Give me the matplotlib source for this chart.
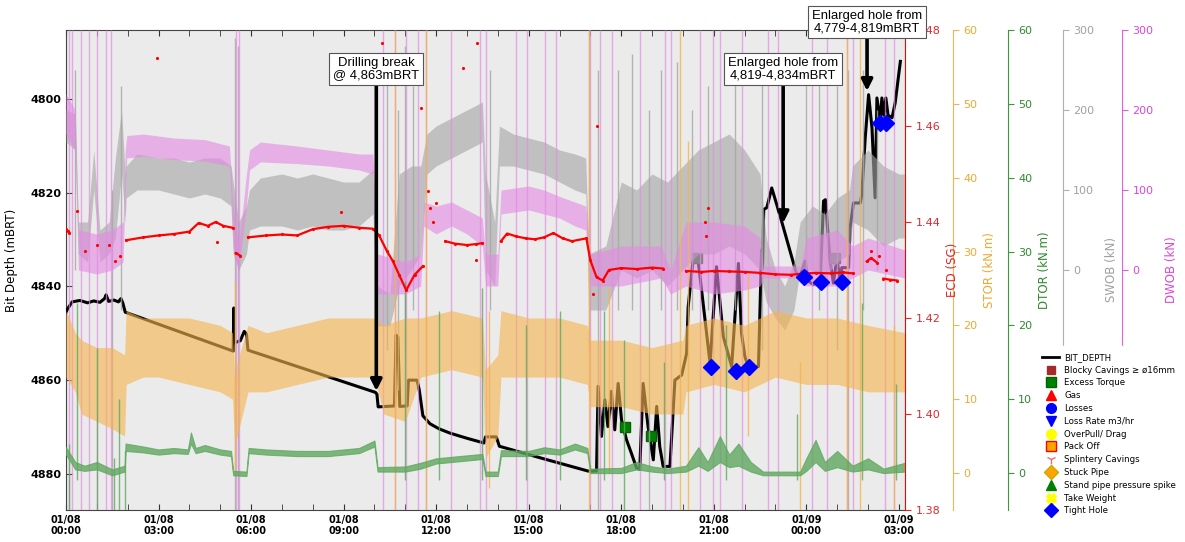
import numpy as np
import matplotlib
matplotlib.use("Agg")
import matplotlib.pyplot as plt
import matplotlib.dates as mdates
from matplotlib.lines import Line2D

nan = np.nan
start_day = "2019-01-08"

# ---------------- data (hours since 01/08 00:00) ----------------
# Bit depth (h, mBRT)
depth = [(0.00, 4845.5), (0.05, 4844.8), (0.2, 4843.3), (0.45, 4843.0), (0.7, 4843.5), (0.9, 4843.1),
         (1.1, 4843.4), (1.25, 4842.6), (1.3, 4841.8), (1.38, 4843.2), (1.55, 4842.9), (1.7, 4843.3),
         (1.78, 4842.6), (1.84, 4843.5), (1.92, 4845.5), (5.42, 4853.8), (5.44, 4844.6), (5.47, 4852.0),
         (5.65, 4851.6), (5.72, 4850.5), (5.78, 4849.6), (5.85, 4850.2), (5.9, 4853.6), (10.03, 4862.6),
         (10.08, 4863.0), (10.12, 4865.7), (10.65, 4865.5), (10.7, 4850.4), (10.76, 4850.8), (10.82, 4865.6),
         (11.06, 4865.5), (11.1, 4860.0), (11.38, 4860.0), (11.45, 4862.0), (11.57, 4867.6), (11.8, 4869.3),
         (12.1, 4870.4), (12.45, 4871.3), (13.0, 4872.4), (13.55, 4873.4), (13.6, 4872.1), (13.95, 4872.1),
         (14.05, 4874.1), (15.5, 4876.8), (16.93, 4879.4), (17.2, 4879.4), (17.25, 4861.3), (17.36, 4872.0),
         (17.47, 4864.2), (17.57, 4869.9), (17.68, 4862.4), (17.79, 4870.6), (17.9, 4860.7), (18.01, 4868.5),
         (18.17, 4872.7), (18.33, 4875.6), (18.5, 4878.8), (18.6, 4879.0), (18.71, 4860.7), (18.87, 4869.9),
         (19.04, 4877.0), (19.15, 4865.6), (19.25, 4874.2), (19.36, 4878.4), (19.58, 4878.4), (19.74, 4860.0),
         (19.96, 4858.9), (20.12, 4854.3), (20.17, 4844.4), (20.33, 4834.3), (20.5, 4834.8), (20.88, 4856.4),
         (21.09, 4835.8), (21.31, 4850.7), (21.58, 4857.1), (21.8, 4835.1), (21.9, 4850.0), (22.01, 4855.0),
         (22.12, 4857.1), (22.45, 4857.1), (22.55, 4832.2), (22.58, 4836.3), (22.62, 4823.6), (22.72, 4823.2),
         (22.88, 4819.0), (23.04, 4822.5), (23.2, 4826.1), (23.69, 4837.5), (23.8, 4837.8), (23.96, 4834.6),
         (24.07, 4838.9), (24.23, 4839.6), (24.45, 4839.0), (24.56, 4821.8), (24.62, 4821.5), (24.77, 4834.6),
         (24.88, 4839.3), (24.99, 4834.0), (25.1, 4838.9), (25.15, 4836.0), (25.37, 4836.0), (25.42, 4827.5),
         (25.53, 4822.2), (25.75, 4822.2), (25.8, 4820.4), (25.91, 4808.3), (26.02, 4799.1), (26.13, 4806.2),
         (26.23, 4821.1), (26.29, 4799.8), (26.4, 4804.8), (26.45, 4799.8), (26.52, 4803.5), (26.58, 4799.8),
         (26.65, 4803.5), (26.78, 4804.0), (26.88, 4800.9), (27.05, 4792.0)]

# Events on bit depth
torque_h = [18.12, 18.95, 20.47, 24.94]
torque_m = [4869.9, 4872.0, 4834.0, 4834.0]
tight_h = [20.91, 21.71, 22.13, 23.93, 24.48, 25.15, 26.40, 26.58]
tight_m = [4857.1, 4858.0, 4857.1, 4838.0, 4839.1, 4839.1, 4805.1, 4805.1]

# ECD (h, SG) with gaps
ecd = [(0.0, 1.4385), (0.05, 1.4382), (0.1, 1.4378), (nan, nan),
       (1.95, 1.4362), (2.5, 1.4368), (3.0, 1.4372), (3.5, 1.4375), (4.0, 1.4380), (4.3, 1.4398),
       (4.6, 1.4392), (4.85, 1.4400), (5.1, 1.4392), (5.4, 1.4388), (nan, nan),
       (5.5, 1.4335), (5.65, 1.4330), (nan, nan),
       (5.9, 1.4368), (6.5, 1.4372), (7.0, 1.4374), (7.5, 1.4372), (8.0, 1.4385), (8.5, 1.4390),
       (9.0, 1.4392), (9.5, 1.4388), (9.95, 1.4386), (10.15, 1.4372), (10.4, 1.4340), (10.6, 1.4318),
       (10.8, 1.4290), (11.03, 1.4258), (11.3, 1.4290), (11.57, 1.4308), (nan, nan),
       (12.3, 1.4360), (12.6, 1.4355), (13.0, 1.4352), (13.3, 1.4354), (13.5, 1.4356), (nan, nan),
       (14.1, 1.4360), (14.3, 1.4376), (14.6, 1.4370), (14.9, 1.4366), (15.2, 1.4364), (15.5, 1.4368),
       (15.8, 1.4377), (16.1, 1.4366), (16.4, 1.4360), (16.87, 1.4366), (17.0, 1.4320), (17.2, 1.4285),
       (17.4, 1.4278), (17.6, 1.4300), (18.0, 1.4304), (18.5, 1.4302), (19.0, 1.4305), (19.36, 1.4303),
       (nan, nan),
       (20.1, 1.4298), (20.6, 1.4296), (21.0, 1.4298), (21.5, 1.4297), (22.0, 1.4296), (22.5, 1.4294),
       (23.0, 1.4291), (23.5, 1.4290), (23.8, 1.4292), (24.3, 1.4294), (24.8, 1.4293), (25.2, 1.4295),
       (25.5, 1.4293), (nan, nan),
       (25.96, 1.4318), (26.1, 1.4325), (26.3, 1.4315), (nan, nan),
       (26.5, 1.4282), (26.7, 1.4280), (26.95, 1.4278)]
ecd_scatter = [(0.35, 1.4423), (0.6, 1.4340), (1.0, 1.4352), (1.4, 1.4352), (1.6, 1.4319), (1.75, 1.4330),
               (2.95, 1.4742), (4.9, 1.4358), (8.9, 1.4420), (10.25, 1.4773), (11.5, 1.4638),
               (11.75, 1.4465), (11.8, 1.4430), (11.9, 1.4400), (12.0, 1.4440), (12.86, 1.4721),
               (13.34, 1.4773), (13.3, 1.4320), (17.2, 1.4600), (17.1, 1.4250), (20.7, 1.4400),
               (20.75, 1.4370), (20.8, 1.4430), (26.1, 1.4340), (26.35, 1.4330), (26.6, 1.4300)]

# SWOB band (h, low, high) kN
swob_band = [(0.0, 160, 200), (0.3, 150, 195), (0.4, 20, 60), (0.7, 10, 60), (0.9, 100, 150), (1.1, 10, 50),
             (1.4, 20, 60), (1.6, 40, 140), (1.8, 120, 200), (1.92, 60, 120), (1.95, 90, 130), (2.3, 100, 145),
             (3.0, 100, 140), (3.5, 95, 140), (4.0, 90, 135), (4.5, 95, 140), (5.0, 90, 140), (5.35, 80, 130),
             (5.42, 20, 110), (5.6, 0, 60), (5.85, 20, 80), (5.95, 50, 100), (6.3, 55, 115), (7.0, 55, 120),
             (7.5, 50, 115), (8.0, 55, 120), (8.5, 50, 115), (9.0, 50, 110), (9.5, 55, 110), (9.95, 70, 125),
             (10.1, -70, -20), (10.5, -70, -30), (10.8, -20, 120), (11.2, 0, 130), (11.5, 20, 130),
             (11.7, 120, 170), (12.0, 130, 180), (12.5, 140, 190), (13.0, 150, 200), (13.5, 160, 210),
             (13.6, 0, 120), (13.9, -20, 60), (14.05, 130, 180), (14.5, 130, 170), (15.0, 125, 165),
             (15.5, 120, 160), (16.0, 110, 150), (16.5, 100, 145), (16.85, 95, 140), (16.95, -50, 20),
             (17.5, -50, 30), (18.0, 0, 110), (18.5, -10, 100), (19.0, 0, 120), (19.5, -20, 110),
             (20.0, 0, 130), (20.5, 20, 150), (21.0, 20, 160), (21.5, 30, 170), (22.0, 20, 150),
             (22.5, 0, 120), (22.7, -40, 40), (23.0, -60, 0), (23.3, -75, -20), (23.6, -50, 10),
             (23.8, 0, 60), (24.2, 0, 80), (24.6, -10, 70), (25.0, 10, 90), (25.4, 20, 100), (25.5, 60, 130),
             (26.0, 50, 150), (26.5, 30, 130), (27.0, 40, 120), (27.2, 40, 120)]
swob_spikes = [(0.3, 0, 250), (1.5, -300, 100), (1.78, -50, 230), (5.47, -300, 290), (5.58, -300, 280),
               (10.4, -100, 250), (10.75, -150, 200), (11.0, -100, 280), (11.25, -50, 230), (13.75, -50, 250),
               (16.95, -100, 300), (17.25, -300, 250), (17.9, -50, 250), (18.35, -50, 270), (18.9, -300, 200),
               (19.3, -50, 250), (19.8, -50, 260), (20.3, -50, 200), (20.8, -50, 230), (21.7, -50, 250),
               (22.55, -100, 250), (24.0, 0, 240), (24.4, -50, 260), (25.0, -100, 230), (25.35, -300, 250),
               (25.85, -50, 250), (26.3, 0, 200)]

# DWOB band (h, low, high) kN
dwob_band = [(0.0, 170, 220), (0.3, 150, 200), (0.4, 0, 50), (1.0, -5, 45), (1.5, 0, 50), (1.85, 10, 60),
             (1.92, 100, 150), (1.97, 140, 168), (2.5, 142, 170), (3.5, 138, 165), (4.5, 136, 163),
             (5.3, 130, 155), (5.42, 30, 80), (5.6, 0, 30), (5.85, 80, 120), (5.95, 125, 150), (6.3, 135, 160),
             (7.5, 133, 155), (8.5, 130, 150), (9.5, 125, 145), (9.95, 120, 145), (10.1, -30, 20),
             (11.0, -30, 10), (11.5, -20, 20), (11.6, 55, 85), (12.0, 45, 80), (12.5, 55, 85), (13.0, 45, 75),
             (13.5, 30, 65), (13.6, -20, 20), (14.0, -20, 20), (14.1, 70, 100), (15.0, 75, 105),
             (15.5, 70, 100), (16.0, 65, 92), (16.5, 55, 85), (16.85, 50, 80), (17.0, -20, 20), (18.0, -20, 30),
             (19.3, -10, 30), (19.6, -30, 0), (20.1, -20, 60), (21.0, -30, 60), (22.0, -25, 55),
             (22.5, -20, 40), (22.6, -10, 5), (23.8, -10, 5), (24.0, -20, 40), (25.0, -20, 50),
             (25.5, -10, 30), (26.0, 0, 40), (27.2, -10, 25)]
dwob_spikes = [0.1, 0.2, 0.48, 0.75, 1.02, 1.29, 1.45, 5.51, 5.62, 10.27, 10.65, 11.03, 11.41, 11.68, 12.49,
               13.41, 13.63, 14.6, 14.93, 15.52, 15.9, 16.98, 17.3, 17.7, 18.6, 19.42, 19.63, 20.56, 20.97,
               21.2, 21.9, 22.77, 23.09, 24.2, 24.67, 25.31, 25.53, 26.56, 26.85]

# STOR band (h, low, high) kN.m
stor_band = [(0.0, 13, 22), (0.3, 11, 19), (0.5, 8, 18), (1.0, 7, 17), (1.5, 6, 17), (1.9, 5, 16),
             (1.95, 12, 22), (2.5, 13, 21), (3.0, 13, 21), (4.0, 12, 21), (5.0, 11, 20), (5.4, 10, 19),
             (5.47, 4, 12), (5.55, 5, 15), (5.9, 11, 20), (6.5, 11, 19), (7.5, 12, 20), (8.5, 13, 21),
             (9.5, 13, 21), (10.0, 13, 21), (10.3, 8, 20), (11.0, 7, 21), (11.5, 13, 21), (12.5, 14, 22),
             (13.5, 13, 21), (13.6, 2, 14), (14.0, 5, 16), (14.1, 13, 22), (15.0, 13, 21), (16.0, 13, 21),
             (16.9, 12, 20), (17.0, 9, 18), (18.0, 9, 18), (19.0, 8, 17), (20.0, 8, 18), (20.1, 11, 20),
             (21.0, 12, 21), (22.0, 11, 20), (22.5, 12, 21), (23.0, 13, 22), (24.0, 12, 21), (25.0, 12, 21),
             (26.0, 11, 20), (27.2, 11, 19)]
stor_spikes = [(5.48, 0, 26), (10.65, -5, 60), (11.68, -5, 60), (13.7, -2, 22), (16.95, -5, 60), (17.6, 0, 25),
               (19.9, -5, 60), (20.15, -5, 45), (22.1, 5, 27), (23.8, -5, 15), (25.32, -5, 60),
               (25.75, -5, 60), (26.85, -5, 20)]

# DTOR band (h, low, high) kN.m
dtor_band = [(0.0, 2.5, 3.5), (0.3, 0.5, 1.5), (0.6, 0.3, 1.0), (1.0, 0.5, 1.5), (1.5, -0.3, 0.5),
             (1.9, 0.2, 1.0), (1.93, 3.0, 4.0), (2.5, 2.8, 3.6), (3.0, 2.5, 3.2), (3.5, 2.7, 3.4),
             (3.95, 2.6, 3.2), (4.05, 4.0, 5.5), (4.2, 2.7, 3.4), (4.5, 3.0, 3.8), (5.0, 2.5, 3.2),
             (5.35, 2.3, 3.0), (5.42, -0.3, 0.3), (5.85, -0.4, 0.2), (5.92, 2.7, 3.4), (6.5, 2.5, 3.2),
             (7.5, 2.3, 3.0), (8.5, 2.3, 3.0), (9.5, 2.7, 3.4), (10.0, 3.6, 4.4), (10.1, 0.2, 0.8),
             (11.0, 0.2, 0.9), (11.5, 0.6, 1.4), (12.0, 1.3, 2.0), (12.5, 1.5, 2.2), (13.5, 1.9, 2.6),
             (13.6, -0.4, 0.2), (14.0, -0.4, 0.2), (14.1, 2.3, 3.1), (15.0, 2.3, 3.0), (15.5, 2.7, 3.5),
             (16.0, 2.5, 3.2), (16.5, 3.2, 4.0), (16.9, 2.7, 3.4), (17.0, 0.0, 0.6), (18.0, 0.0, 0.7),
             (18.5, 0.5, 1.5), (19.0, 0.2, 0.9), (19.5, 0.0, 0.6), (20.1, 0.2, 1.0), (20.5, 1.0, 3.5),
             (20.8, 0.3, 1.5), (21.2, 1.5, 5.0), (21.5, 0.8, 2.5), (21.8, 1.0, 4.0), (22.2, 0.2, 1.5),
             (22.6, -0.3, 0.2), (23.8, -0.3, 0.2), (24.0, 0.3, 2.0), (24.3, 1.5, 4.5), (24.6, 0.3, 1.5),
             (25.0, 0.8, 3.0), (25.5, 0.2, 1.0), (26.0, 0.5, 2.0), (26.5, 0.0, 0.6), (27.2, 0.2, 1.4)]
dtor_spikes = [(0.1, -5, 4), (0.36, -1, 23), (1.0, -5, 17), (1.55, -5, 2), (1.72, -5, 10), (1.9, -5, 3),
               (11.0, -1, 26), (12.1, -1, 22), (13.5, -1, 25), (14.9, -1, 20), (16.0, -1, 22), (17.45, -1, 22),
               (18.1, -5, 18), (19.4, -1, 15), (21.4, -1, 20), (23.7, -1, 8), (25.8, -1, 23), (26.9, -1, 12)]

# Annotations
note_text = ["Drilling break\n@ 4,863mBRT", "Enlarged hole from\n4,819-4,834mBRT",
             "Enlarged hole from\n4,779-4,819mBRT"]
note_h = [10.06, 23.25, 25.97]
note_tip_m = [4862.3, 4826.5, 4798.3]
note_box_m = [4793.6, 4793.6, 4783.6]

legend_labels = ["BIT_DEPTH", "Blocky Cavings \u2265 \u00f816mm", "Excess Torque", "Gas", "Losses",
                 "Loss Rate m3/hr", "OverPull/ Drag", "Pack Off", "Splintery Cavings", "Stuck Pipe",
                 "Stand pipe pressure spike", "Take Weight", "Tight Hole"]

# ---------------- helpers ----------------
base = mdates.datestr2num(start_day)


def tx(h):
    return base + np.asarray(h, dtype=float) / 24.0


def cols(rows):
    return [np.array(c, dtype=float) for c in zip(*rows)]


W, H = 1185, 542
fig = plt.figure(figsize=(W / 100, H / 100), dpi=100)
ax = fig.add_axes([66 / W, 32 / H, 839 / W, 480 / H])
ax.set_facecolor("#ebebeb")

ax_swob = ax.twinx()
ax_dwob = ax.twinx()
ax_stor = ax.twinx()
ax_dtor = ax.twinx()
ax_ecd = ax.twinx()
for a, z in [(ax_swob, 1), (ax_dwob, 1), (ax_stor, 1), (ax_dtor, 1), (ax_ecd, 2)]:
    a.set_zorder(z)
    for s in ("left", "top", "bottom"):
        a.spines[s].set_visible(False)

c_red, c_red_t = "red", "#e3262e"
c_or_line, c_or_t = "#f4b450", "#f0a830"
c_gr_line, c_gr_t = "#5fa85f", "#2e8b2e"
c_gy_line, c_gy_t = "#a6a6a6", "#a0a0a0"
c_vi_line, c_vi_t = "#e48ae4", "#dd44dd"

# bit depth
dh, dm = cols(depth)
ax.plot(tx(dh), dm, color="black", lw=2.2, zorder=3)
ax.plot(tx(torque_h), torque_m, "s", color="green", mec="darkgreen", ms=7, zorder=4)

# SWOB
h, lo, hi = cols(swob_band)
ax_swob.fill_between(tx(h), lo, hi, color=c_gy_line, alpha=0.62, lw=0)
h, lo, hi = cols(swob_spikes)
ax_swob.vlines(tx(h), lo, hi, color=c_gy_line, lw=1.0, alpha=0.8)
# DWOB
h, lo, hi = cols(dwob_band)
ax_dwob.fill_between(tx(h), lo, hi, color=c_vi_line, alpha=0.6, lw=0)
ax_dwob.vlines(tx(dwob_spikes), -300, 300, color=c_vi_line, lw=1.0, alpha=0.7)
# STOR
h, lo, hi = cols(stor_band)
ax_stor.fill_between(tx(h), lo, hi, color=c_or_line, alpha=0.62, lw=0)
h, lo, hi = cols(stor_spikes)
ax_stor.vlines(tx(h), lo, hi, color=c_or_line, lw=1.0, alpha=0.8)
# DTOR
h, lo, hi = cols(dtor_band)
ax_dtor.fill_between(tx(h), lo, hi, color=c_gr_line, alpha=0.8, lw=0.8, edgecolor=c_gr_line)
h, lo, hi = cols(dtor_spikes)
ax_dtor.vlines(tx(h), lo, hi, color=c_gr_line, lw=1.0, alpha=0.8)
# ECD
h, v = cols(ecd)
ax_ecd.plot(tx(h), v, color=c_red, lw=1.6, marker=".", ms=2.5)
h, v = cols(ecd_scatter)
ax_ecd.plot(tx(h), v, ".", color=c_red, ms=2.5, lw=0)

# tight hole markers on top layer (in depth coordinates)
ax_ecd.plot(tx(tight_h), tight_m, "D", color="blue", ms=8, transform=ax.transData, zorder=5)

# annotations on top layer
for txt, hh, tip, box in zip(note_text, note_h, note_tip_m, note_box_m):
    ax_ecd.annotate(txt, xy=(tx(hh), tip), xycoords=ax.transData,
                    xytext=(tx(hh), box), textcoords=ax.transData,
                    ha="center", va="center", fontsize=9.4, family="Liberation Sans",
                    linespacing=1.05, annotation_clip=False, zorder=10,
                    bbox=dict(boxstyle="square,pad=0.3", fc="white", ec="#555555", lw=0.8),
                    arrowprops=dict(arrowstyle="-|>,head_length=0.7,head_width=0.35", lw=2.6,
                                    color="black", shrinkA=0, shrinkB=0))

# ---------------- axes formatting ----------------
ax.set_xlim(tx(0.0), tx(27.2))
ax.set_ylim(4887.7, 4785.3)
ax.set_yticks([4800, 4820, 4840, 4860, 4880])
ax.xaxis.set_major_locator(mdates.HourLocator(byhour=range(0, 24, 3)))
ax.xaxis.set_minor_locator(mdates.HourLocator())
ax.xaxis.set_major_formatter(mdates.DateFormatter("%m/%d\n%H:%M"))
ax.tick_params(axis="x", which="both", direction="in", top=True, length=4, labelsize=7, color="#333333")
ax.tick_params(axis="y", direction="in", length=4, labelsize=8, right=False, color="#333333")
for lab in ax.get_xticklabels() + ax.get_yticklabels():
    lab.set_fontweight("bold")
ax.set_ylabel("Bit Depth (mBRT)", fontsize=8.5)
ax.yaxis.set_label_coords(-0.057, 0.52)
for s in ("left", "top", "bottom"):
    ax.spines[s].set_color("#444444")
ax.spines["right"].set_visible(False)

ax_ecd.set_ylim(1.38, 1.48)
ax_ecd.set_yticks([1.38, 1.40, 1.42, 1.44, 1.46, 1.48])
ax_ecd.spines["right"].set_color(c_red)
ax_ecd.tick_params(axis="y", colors=c_red_t, direction="out", length=4, labelsize=8)
ax_ecd.set_ylabel("ECD (SG)", color=c_red_t, fontsize=8.5)

specs = [(ax_stor, 1.0572, (-5, 60), range(0, 61, 10), c_or_line, c_or_t, "STOR (kN.m)", 4),
         (ax_dtor, 1.1224, (-5, 60), range(0, 61, 10), "#3a9a3a", c_gr_t, "DTOR (kN.m)", 4),
         (ax_swob, 1.188, (-300, 300), range(0, 301, 100), "#b0b0b0", c_gy_t, "SWOB (kN)", 8),
         (ax_dwob, 1.2586, (-300, 300), range(0, 301, 100), "#e060e0", c_vi_t, "DWOB (kN)", 8)]
for a, pos, lim, ticks, sc, tc, lab, pad in specs:
    a.spines["right"].set_position(("axes", pos))
    a.spines["right"].set_color(sc)
    a.set_ylim(*lim)
    a.set_yticks(list(ticks))
    a.tick_params(axis="y", colors=tc, direction="out", length=4, labelsize=8)
    a.tick_params(axis="y", color=sc)
    a.set_ylabel(lab, color=tc, fontsize=8.5, labelpad=pad)

# ---------------- legend ----------------
handles = [Line2D([], [], color="black", lw=2),
           Line2D([], [], ls="", marker="s", color="#a52a2a", ms=6),
           Line2D([], [], ls="", marker="s", color="green", mec="darkgreen", ms=7),
           Line2D([], [], ls="", marker="^", color="red", ms=7),
           Line2D([], [], ls="", marker="o", color="blue", ms=7),
           Line2D([], [], ls="", marker="v", color="blue", ms=7),
           Line2D([], [], ls="", marker="o", color="yellow", ms=7),
           Line2D([], [], ls="", marker="s", mfc="orange", mec="red", ms=7),
           Line2D([], [], ls="", marker="1", color="#f07070", ms=7),
           Line2D([], [], ls="", marker="D", mfc="orange", mec="#c8a800", ms=7),
           Line2D([], [], ls="", marker="^", color="green", ms=7),
           Line2D([], [], ls="", marker="X", color="yellow", ms=7),
           Line2D([], [], ls="", marker="D", color="blue", ms=7)]
fig.legend(handles, legend_labels, loc="upper left", bbox_to_anchor=(1035 / W, 1 - 346 / H),
           fontsize=6.2, frameon=True, facecolor="white", edgecolor="white", framealpha=1,
           labelspacing=0.44, handlelength=2.0, handletextpad=0.6, borderpad=0.8, borderaxespad=0)

fig.savefig("out.png", dpi=100)
